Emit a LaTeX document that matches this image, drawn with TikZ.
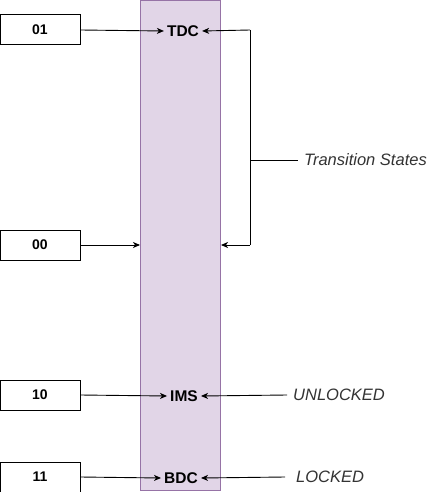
\documentclass[tikz,border=0pt]{standalone}
\usepackage{fontspec}
\setmainfont{Liberation Sans}
\usetikzlibrary{arrows.meta}
\definecolor{barfill}{HTML}{E1D5E7}
\definecolor{barline}{HTML}{9673A6}
\begin{document}
\begin{tikzpicture}[x=1pt,y=-1pt,
  inbox/.style={draw,line width=1pt,minimum width=80pt,minimum height=30pt,inner sep=0pt,font=\fontsize{14}{16}\selectfont\bfseries},
  lbl/.style={inner sep=3pt,font=\fontsize{15.5}{18}\selectfont\bfseries},
  note/.style={inner sep=0pt,anchor=west,font=\fontsize{16.5}{19}\selectfont\itshape,text=black!80},
  arr/.style={line width=0.9pt,-{Stealth[length=7pt,width=6pt,inset=2pt]}}]
\useasboundingbox (0,0) rectangle (432,492);
\node[draw=barline,fill=barfill,line width=0.8pt,minimum width=80pt,minimum height=490pt,inner sep=0pt] (bar) at (180,245) {};
\node[inbox] (b01) at (40,30) {01};
\node[inbox] (b00) at (40,245) {00};
\node[inbox] (b10) at (40,395) {10};
\node[inbox] (b11) at (40,477) {11};
\node[lbl] (tdc) at (183,31) {TDC};
\node[lbl] (ims) at (184,396) {IMS};
\node[lbl] (bdc) at (181,478) {BDC};
\coordinate (inl) at (140,245);
\coordinate (inr) at (221,245);
\coordinate (tr) at (250,30);
\coordinate (br) at (250,245);
\coordinate (mid) at (250,160);
\node[note] (ts) at (304,160) {Transition States};
\node[note] (un) at (293,395) {UNLOCKED};
\node[note] (lk) at (296,477) {LOCKED};
\draw[arr] (b01.east) -- (tdc.west);
\draw[arr] (b00.east) -- (inl);
\draw[arr] (b10.east) -- (ims.west);
\draw[arr] (b11.east) -- (bdc.west);
\draw[arr] (tr) -- (tdc.east);
\draw[arr] (br) -- (inr);
\draw[line width=0.9pt] (tr) -- (br);
\draw[line width=0.9pt] (mid) -- ([xshift=-6pt]ts.west);
\draw[arr] ([xshift=-6pt]un.west) -- (ims.east);
\draw[arr] ([xshift=-11pt]lk.west) -- (bdc.east);
\end{tikzpicture}
\end{document}
